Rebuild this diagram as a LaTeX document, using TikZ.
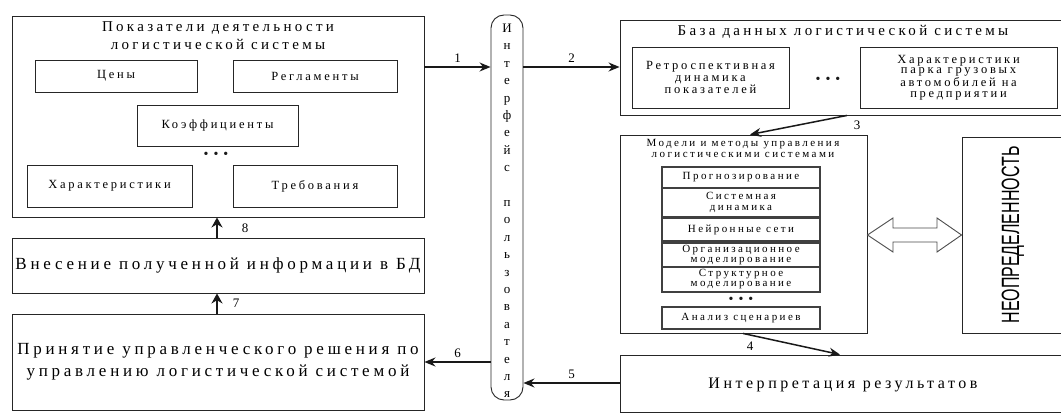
\documentclass[tikz,border=0pt]{standalone}
\usepackage{fontspec}
\setmainfont[LetterSpace=22]{Liberation Serif}
\newfontfamily\neofont{Liberation Sans}
\usetikzlibrary{arrows.meta}
\newcommand\fsz[2]{\fontsize{#1}{#2}\selectfont}
\newcommand\threedots{\textbullet\hspace{5pt}\textbullet\hspace{5pt}\textbullet}
\begin{document}
\begin{tikzpicture}[x=1pt,y=-1pt,
  box/.style={draw=black!85, line width=0.9pt, rectangle, inner sep=0pt, align=center, text=black},
  sub/.style={box, draw=black!75, line width=1.1pt},
  txt/.style={inner sep=0pt, align=center, text=black},
  arr/.style={line width=1.5pt, black!90, -{Stealth[length=11pt,width=9pt]}},
  num/.style={font=\fsz{13}{13}, inner sep=1pt, text=black},
  dots/.style={inner sep=0pt, font=\fsz{14}{14}, text=black!90},
  hollow/.style={draw=black!70, line width=0.9pt, fill=white}]
\useasboundingbox (0,0) rectangle (1061,414);
\fill[white] (0,0) rectangle (1061,414);

% ---------- left column ----------
\node[box, minimum width=412pt, minimum height=201pt] (L) at (218,116.5) {};
\node[txt, font=\fsz{15}{18}] (Lt) at (218,36) {Показатели деятельности\\логистической системы};
\node[box, minimum width=162pt, minimum height=32pt, font=\fsz{12.5}{14}] (price) at (116,76) {Цены};
\node[box, minimum width=164pt, minimum height=32pt, font=\fsz{12.5}{14}] (regl) at (315,76) {Регламенты};
\node[box, minimum width=161pt, minimum height=41pt, font=\fsz{12.5}{14}] (koef) at (217.5,125.5) {Коэффициенты};
\node[dots] (d1) at (216,155) {\threedots};
\node[box, minimum width=165pt, minimum height=42pt, font=\fsz{12.5}{14}] (har) at (109.5,186) {Характеристики};
\node[box, minimum width=164pt, minimum height=42pt, font=\fsz{12.5}{14}] (treb) at (315,186) {Требования};

\node[box, minimum width=412pt, minimum height=55pt, font=\fsz{17}{20}] (V) at (218,265.5) {Внесение полученной информации в БД};
\node[box, minimum width=412pt, minimum height=96pt, font=\fsz{17}{22}] (P) at (218,362) {Принятие управленческого решения по\\управлению логистической системой};

% ---------- interface ----------
\node[draw=black!85, line width=0.9pt, rounded corners=13pt, minimum width=32pt, minimum height=385pt, inner sep=0pt] (I) at (507,207.5) {};
\node[txt, font=\fsz{13}{17.4}] (It) at (507,211) {И\\н\\т\\е\\р\\ф\\е\\й\\с\\[17.4pt]п\\о\\л\\ь\\з\\о\\в\\а\\т\\е\\л\\я};

% ---------- right column ----------
\node[box, minimum width=448pt, minimum height=95pt] (DB) at (844,67.5) {};
\node[txt, font=\fsz{15}{18}] (DBt) at (843,32) {База данных логистической системы};
\node[box, minimum width=157pt, minimum height=61pt, font=\fsz{12.5}{12}] (retro) at (710.5,77.5) {Ретроспективная\\динамика\\показателей};
\node[dots] (d2) at (828,80) {\threedots};
\node[box, minimum width=197pt, minimum height=61pt, font=\fsz{12.5}{10.5}] (park) at (958.5,77.5) {Характеристики\\парка грузовых\\автомобилей на\\предприятии};

\node[box, minimum width=247pt, minimum height=198pt] (M) at (743.5,234) {};
\node[txt, font=\fsz{11}{10.5}] (Mt) at (743,148.5) {Модели и методы управления\\логистическими системами};
\node[sub, minimum width=158pt, minimum height=21pt, font=\fsz{11}{10}] (m1) at (741,177.5) {Прогнозирование};
\node[sub, minimum width=158pt, minimum height=29pt, font=\fsz{11}{10.5}] (m2) at (741,202.5) {Системная\\динамика};
\node[sub, minimum width=158pt, minimum height=23pt, font=\fsz{11}{10}] (m3) at (741,229.5) {Нейронные сети};
\node[sub, minimum width=158pt, minimum height=24pt, font=\fsz{11}{10}] (m4) at (741,255) {Организационное\\моделирование};
\node[sub, minimum width=158pt, minimum height=25pt, font=\fsz{11}{10}] (m5) at (741,279.5) {Структурное\\моделирование};
\node[dots] (d3) at (741,300) {\threedots};
\node[sub, minimum width=158pt, minimum height=22pt, font=\fsz{11}{10}] (m6) at (741,318) {Анализ сценариев};

\node[box, minimum width=106pt, minimum height=196pt] (N) at (1015,235) {};
\node[txt, rotate=90, font=\neofont\fsz{25}{25}] (Nt) at (1013,235) {\scalebox{0.64}[1]{НЕОПРЕДЕЛЕННОСТЬ}};

\node[box, minimum width=448pt, minimum height=57pt] (R) at (844,383.5) {};
\node[txt, font=\fsz{16}{18}] (Rt) at (843,385) {Интерпретация результатов};

% hollow double arrow between models and uncertainty
\draw[hollow] (M.east |- 0,235) -- (893,218) -- (893,228) -- (937,228) -- (937,218)
  -- (N.west |- 0,235) -- (937,252) -- (937,242) -- (893,242) -- (893,252) -- cycle;

% ---------- connectors ----------
\coordinate (y67) at (0,67);
\coordinate (y383) at (0,383);
\coordinate (y362) at (0,362);
\coordinate (x217) at (217,0);
\coordinate (x847) at (847,0);
\coordinate (x750) at (750,0);
\coordinate (x743) at (743,0);
\coordinate (x840) at (840,0);

\draw[arr] (L.east |- y67) -- (I.west |- y67) node[num, midway, above=3pt] (n1) {1};
\draw[arr] (I.east |- y67) -- (DB.west |- y67) node[num, midway, above=3pt] (n2) {2};
\draw[arr] (DB.south -| x847) -- (M.north -| x750);
\node[num] (n3) at (857,125) {3};
\draw[arr] (M.south -| x743) -- (R.north -| x840);
\node[num] (n4) at (750,346) {4};
\draw[arr] (R.west |- y383) -- (I.east |- y383) node[num, midway, above=3pt] (n5) {5};
\draw[arr] (I.west |- y362) -- (P.east |- y362) node[num, midway, above=3pt] (n6) {6};
\draw[arr, line width=2.2pt, -{Stealth[length=10pt,width=11pt]}] (V.north -| x217) -- (L.south -| x217);
\node[num] (n8) at (245,228) {8};
\draw[arr, line width=2.2pt, -{Stealth[length=10pt,width=11pt]}] (P.north -| x217) -- (V.south -| x217);
\node[num] (n7) at (236,303) {7};
\end{tikzpicture}
\end{document}
